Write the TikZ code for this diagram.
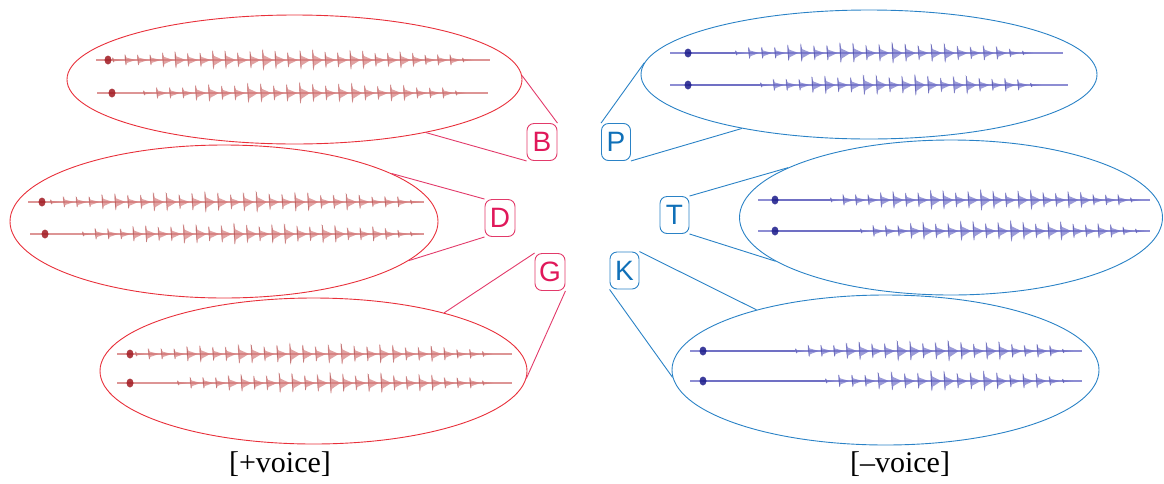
\documentclass[tikz,border=0pt]{standalone}
\usepackage{fontspec}
\setmainfont{Liberation Serif}
\newfontfamily\labfont{Liberation Sans}
\usetikzlibrary{shapes.geometric}
\definecolor{ellred}{HTML}{E8303A}
\definecolor{linred}{HTML}{E23A6A}
\definecolor{txtred}{HTML}{E0185A}
\definecolor{ellblue}{HTML}{2A82C6}
\definecolor{txtblue}{HTML}{1070B8}
\definecolor{wavred}{HTML}{D47A7A}
\definecolor{wavredmid}{HTML}{A84848}
\definecolor{wavreddark}{HTML}{A01820}
\definecolor{wavblue}{HTML}{7070C8}
\definecolor{wavbluemid}{HTML}{4040A0}
\definecolor{wavbluedark}{HTML}{1A1A8A}
\newcommand\wrow[9]{%
  \draw[#1, line width=1.2pt, opacity=.8] (#5,#4) -- (#6,#4);
  \fill[#3, opacity=.85] (#7,#4) ellipse (3.5pt and 4.5pt);
  \pgfmathtruncatemacro\np{(#9-#8)/12.5}
  \foreach \i in {0,...,\np}{%
    \pgfmathsetmacro\xx{#8+\i*(#9-#8)/\np}
    \pgfmathsetmacro\aa{(3+8.5*sqrt(abs(sin(180*\i/\np))))*(0.85+0.15*sin(\i*97))}
    \fill[#1, opacity=.7] (\xx,#4-\aa) -- (\xx+2,#4-0.4*\aa) -- (\xx+9,#4-0.1*\aa) -- (\xx+11,#4) -- (\xx+9,#4+0.12*\aa) -- (\xx+2.5,#4+0.5*\aa) -- (\xx+1.5,#4+0.95*\aa) -- (\xx+0.3,#4) -- cycle;
    \draw[#2, opacity=.55, line width=0.7pt] (\xx+0.8,#4-0.9*\aa) -- (\xx+1.4,#4+0.85*\aa);
  }
}
\newcommand\asp[4]{\draw[#1, line width=2.4pt, opacity=.6] (#3,#2) -- (#4,#2);}
\tikzset{
  redell/.style={draw=ellred, line width=0.9pt, ellipse, inner sep=0pt},
  blueell/.style={draw=ellblue, line width=0.9pt, ellipse, inner sep=0pt},
  redlab/.style={draw=linred, rounded corners=7pt, line width=0.9pt, minimum width=30pt, minimum height=37pt, inner sep=0pt, text=txtred, font=\labfont\fontsize{28}{28}\selectfont},
  bluelab/.style={draw=ellblue, rounded corners=7pt, line width=0.9pt, minimum width=29pt, minimum height=37pt, inner sep=0pt, text=txtblue, font=\labfont\fontsize{28}{28}\selectfont},
  redcon/.style={draw=linred, line width=0.9pt},
  bluecon/.style={draw=ellblue, line width=0.9pt},
  captext/.style={font=\fontsize{30}{30}\selectfont}
}
\begin{document}
\begin{tikzpicture}[x=1pt,y=-1pt]
\useasboundingbox (0,0) rectangle (1164,483);
% ellipses
\node[redell, minimum width=455pt, minimum height=129pt] (eB) at (294.5,79.5) {};
\node[redell, minimum width=428pt, minimum height=153pt] (eD) at (224,221.5) {};
\node[redell, minimum width=427pt, minimum height=146pt] (eG) at (313.5,371) {};
\node[blueell, minimum width=456pt, minimum height=129pt] (eP) at (869,74.5) {};
\node[blueell, minimum width=423pt, minimum height=155pt] (eT) at (951,217.5) {};
\node[blueell, minimum width=427pt, minimum height=150pt] (eK) at (885.5,370) {};
% waveforms (voiced)
\wrow{wavred}{wavredmid}{wavreddark}{60}{96}{490}{108}{112}{462}
\wrow{wavred}{wavredmid}{wavreddark}{93}{97}{488}{112}{143}{455}
\wrow{wavred}{wavredmid}{wavreddark}{202}{28}{424}{42}{50}{410}
\wrow{wavred}{wavredmid}{wavreddark}{234}{30}{424}{45}{82}{410}
\wrow{wavred}{wavredmid}{wavreddark}{354}{117}{512}{130}{135}{482}
\wrow{wavred}{wavredmid}{wavreddark}{383}{117}{512}{130}{177}{482}
% waveforms (voiceless)
\asp{wavbluedark}{53}{688}{735}
\wrow{wavblue}{wavbluemid}{wavbluedark}{53}{670}{1063}{688}{735}{1022}
\asp{wavbluedark}{85}{688}{760}
\wrow{wavblue}{wavbluemid}{wavbluedark}{85}{670}{1068}{688}{760}{1030}
\asp{wavbluedark}{200}{775}{830}
\wrow{wavblue}{wavbluemid}{wavbluedark}{200}{758}{1150}{775}{830}{1130}
\asp{wavbluedark}{231}{775}{860}
\wrow{wavblue}{wavbluemid}{wavbluedark}{231}{758}{1150}{775}{860}{1135}
\asp{wavbluedark}{351}{703}{795}
\wrow{wavblue}{wavbluemid}{wavbluedark}{351}{690}{1082}{703}{795}{1062}
\asp{wavbluedark}{381}{703}{825}
\wrow{wavblue}{wavbluemid}{wavbluedark}{381}{690}{1082}{703}{825}{1062}
% labels
\node[redlab] (lB) at (542,142) {B};
\node[redlab] (lD) at (500,218) {D};
\node[redlab] (lG) at (550,272) {G};
\node[bluelab] (lP) at (616,142) {P};
\node[bluelab] (lT) at (674.5,215) {T};
\node[bluelab] (lK) at (624.5,270.5) {K};
% connectors
\draw[redcon] (lB.north east) -- (eB.1);
\draw[redcon] (lB.south west) -- (eB.-22.3);
\draw[redcon] (lD.north west) -- (eD.16.6);
\draw[redcon] (lD.south west) -- (eD.-12.9);
\draw[redcon] (lG.north west) -- (eG.24.3);
\draw[redcon] (lG.south east) -- (eG.-2.4);
\draw[bluecon] (lP.north west) -- (eP.177.6);
\draw[bluecon] (lP.south east) -- (eP.-157.8);
\draw[bluecon] (lT.north east) -- (eT.163.8);
\draw[bluecon] (lT.south east) -- (eT.194.9);
\draw[bluecon] (lK.north east) -- (eK.155);
\draw[bluecon] (lK.south west) -- (eK.182.7);
% captions
\node[captext] (cv) at (280,464) {[+voice]};
\node[captext] (cu) at (900,464) {[--voice]};
\end{tikzpicture}
\end{document}
